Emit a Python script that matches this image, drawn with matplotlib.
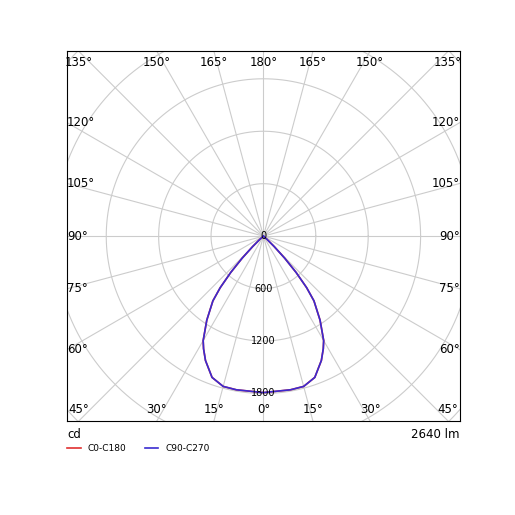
import numpy as np
import matplotlib.pyplot as plt

# gamma angle (deg) vs luminous intensity (cd)
gamma = [0, 10, 15, 20, 25, 28, 30, 34, 38, 40, 42, 44, 46, 48, 50, 90]
c0_c180 = [1790, 1785, 1780, 1720, 1570, 1460, 1380, 1160, 940, 770, 560, 350, 170, 60, 0, 0]
c90_c270 = [1790, 1785, 1780, 1720, 1570, 1460, 1380, 1160, 940, 770, 560, 350, 170, 60, 0, 0]
rings = [0, 600, 1200, 1800]
flux_label = "2640 lm"

fig = plt.figure(figsize=(5.15, 5.15), dpi=100)
ax = fig.add_axes([0.130, 0.1825, 0.763, 0.718])
XL, YL = 2250, 2115
ax.set_xlim(-XL, XL)
ax.set_ylim(-YL, YL)
ax.set_xticks([]); ax.set_yticks([])

t = np.linspace(0, 2 * np.pi, 400)
for r in [600, 1200, 1800, 2400, 3000, 3600]:
    ax.plot(r * np.cos(t), r * np.sin(t), color='#cccccc', lw=0.8, zorder=1)
for g in range(0, 360, 15):
    a = np.radians(g)
    ax.plot([0, 5000 * np.sin(a)], [0, -5000 * np.cos(a)], color='#cccccc', lw=0.8, zorder=1)

# angle labels on the frame
for g in range(0, 181, 15):
    for s in ([1] if g in (0, 180) else [-1, 1]):
        a = np.radians(g)
        dx, dy = s * np.sin(a), -np.cos(a)
        k = min(XL / abs(dx) if abs(dx) > 1e-9 else 1e9, YL / abs(dy) if abs(dy) > 1e-9 else 1e9)
        x, y = dx * k, dy * k
        lab = f"{g}°"
        if abs(abs(y) - YL) < 1:
            va = 'top' if y > 0 else 'bottom'
            ha = 'center'
            if abs(abs(x) - XL) < 1:
                ha = 'left' if x < 0 else 'right'
            y = y - 60 if y > 0 else y + 60
        else:
            va = 'center'
            ha = 'left' if x < 0 else 'right'
        ax.text(x, y, lab, ha=ha, va=va, fontsize=8.5, zorder=3)

for r in rings:
    ax.text(0, -r, str(r), ha='center', va='center', fontsize=7, zorder=3)

th = np.radians(gamma)
for vals, col, lab in [(c0_c180, '#e03030', 'C0-C180'), (c90_c270, '#3a2bd0', 'C90-C270')]:
    v = np.array(vals, float)
    x = np.concatenate([-v[::-1] * np.sin(th[::-1]), v * np.sin(th)])
    y = np.concatenate([-v[::-1] * np.cos(th[::-1]), -v * np.cos(th)])
    ax.plot(x, y, color=col, lw=1.2, label=lab, zorder=2)

fig.text(0.130, 0.157, "cd", fontsize=8.5, va='center')
fig.text(0.893, 0.157, flux_label, fontsize=8.5, va='center', ha='right')
ax.legend(loc='upper left', bbox_to_anchor=(-0.02, -0.04), ncol=2, frameon=False,
          fontsize=6.5, handlelength=1.5, columnspacing=2)
fig.savefig("out.png", dpi=100)
